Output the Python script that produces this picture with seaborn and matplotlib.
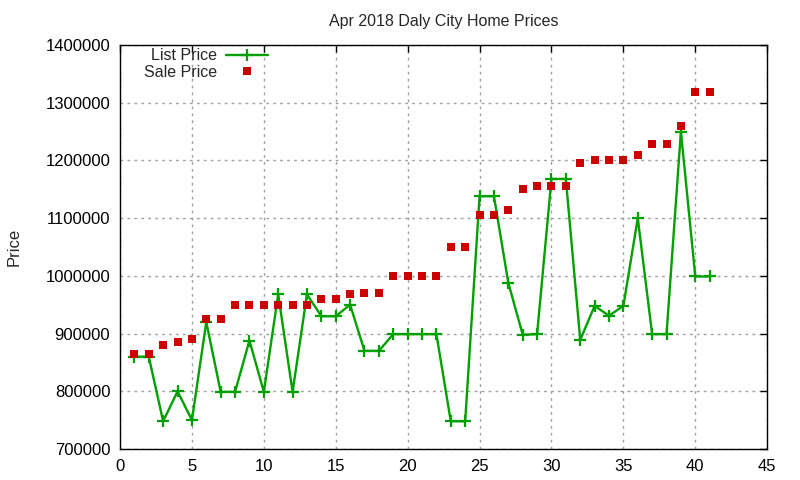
import matplotlib
matplotlib.use("Agg")
import matplotlib.pyplot as plt
from matplotlib.lines import Line2D
import seaborn as sns
import pandas as pd

idx = list(range(1, 42))
list_price = [860000, 860000, 748000, 800000, 750000, 920000, 799000, 799000, 888000, 799000,
              968000, 799000, 968000, 930000, 930000, 950000, 870000, 870000, 899000, 899000,
              899000, 899000, 748000, 748000, 1138000, 1138000, 988000, 898000, 899000, 1168000,
              1168000, 889000, 948000, 931000, 948000, 1100000, 899000, 899000, 1250000, 999000,
              999000]
sale_price = [865000, 865000, 880000, 885000, 890000, 925000, 925000, 950000, 950000, 950000,
              950000, 950000, 950000, 960000, 960000, 968000, 970000, 970000, 1000000, 1000000,
              1000000, 1000000, 1050000, 1050000, 1105000, 1105000, 1115000, 1150000, 1155000, 1155000,
              1155000, 1196000, 1200000, 1200000, 1200000, 1210000, 1228000, 1228000, 1260000, 1318000,
              1318000]
title = "Apr 2018 Daly City Home Prices"
xticks = [0, 5, 10, 15, 20, 25, 30, 35, 40, 45]
yticks = [700000, 800000, 900000, 1000000, 1100000, 1200000, 1300000, 1400000]

df = pd.DataFrame({"idx": idx, "List Price": list_price, "Sale Price": sale_price})

sns.set_style("white")
plt.rcParams['font.family'] = ['Liberation Sans', 'DejaVu Sans']

fig = plt.figure(figsize=(8, 4.8), dpi=100)
ax = fig.add_axes([0.15, 0.0646, 0.809, 0.8415])

green = "#00a000"
red = "#cc0000"
sns.lineplot(data=df, x="idx", y="List Price", ax=ax, color=green, linewidth=1.7,
             marker="+", markersize=9, markeredgewidth=1.6, markeredgecolor=green,
             legend=False)
sns.scatterplot(data=df, x="idx", y="Sale Price", ax=ax, color=red, marker="s",
                s=40, linewidth=0, zorder=3, legend=False)

ax.set_xlim(0, 45)
ax.set_ylim(700000, 1400000)
ax.set_xticks(xticks)
ax.set_yticks(yticks)
ax.set_xticklabels([str(v) for v in xticks], fontsize=12)
ax.set_yticklabels([str(v) for v in yticks], fontsize=12)
ax.tick_params(direction="in", length=5, width=1, top=True, right=True, pad=7, colors="black")
ax.grid(True, color="#a0a0a0", linestyle=(0, (2, 3)), linewidth=1)
for s in ax.spines.values():
    s.set_color("black")
    s.set_linewidth(1)
ax.set_xlabel("")
ax.set_ylabel("Price", fontsize=12, labelpad=17)
ax.set_title(title, fontsize=11.5, pad=14)

handles = [
    Line2D([], [], color=green, linewidth=1.7, marker="+", markersize=9,
           markeredgewidth=1.6, markeredgecolor=green),
    Line2D([], [], color=red, linestyle="none", marker="s", markersize=6.3,
           markeredgewidth=0),
]
leg = ax.legend(handles, ["List Price", "Sale Price"], loc="upper left",
                bbox_to_anchor=(0.02, 1.02), frameon=False, markerfirst=False,
                fontsize=11.5, handlelength=2.6, handletextpad=0.55, borderpad=0.2,
                labelspacing=0.1, numpoints=1)
for t in leg.get_texts():
    t.set_ha("right")

fig.savefig("out.png", dpi=100)
